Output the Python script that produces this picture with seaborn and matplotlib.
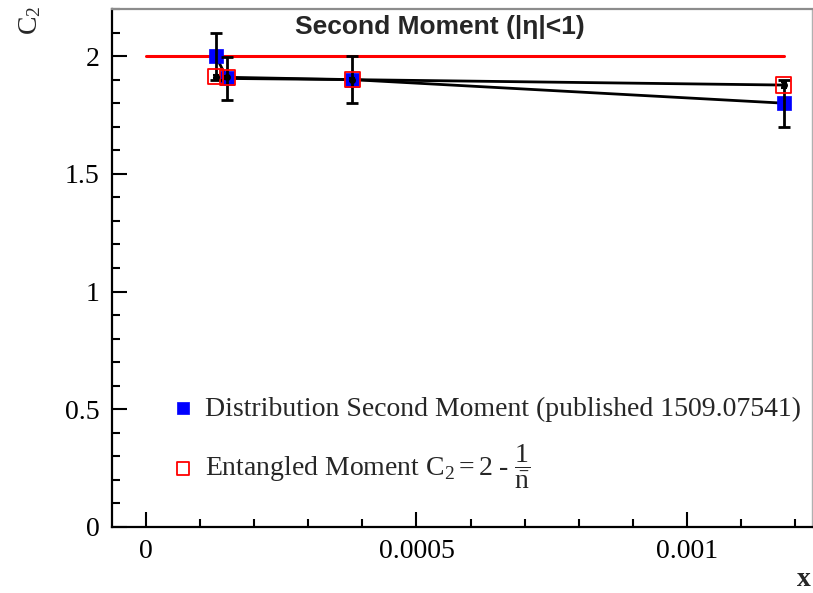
import matplotlib
matplotlib.use("Agg")
import matplotlib.pyplot as plt
from matplotlib.ticker import MultipleLocator
import seaborn as sns
import pandas as pd

# Bjorken-x bins and second-moment values
x_vals = [0.000129, 0.000150, 0.000381, 0.001179]
dist_c2 = [2.00, 1.905, 1.90, 1.80]
dist_err = [0.10, 0.09, 0.10, 0.10]
ent_c2 = [1.912, 1.91, 1.90, 1.877]
ent_err = [0.006, 0.006, 0.006, 0.012]
ref_x = [0.0, 0.00118]
ref_c2 = [2.0, 2.0]

x_ticks = [0, 0.0005, 0.001]
x_ticklabels = ["0", "0.0005", "0.001"]
y_ticks = [0, 0.5, 1, 1.5, 2]
y_ticklabels = ["0", "0.5", "1", "1.5", "2"]

title_text = "Second Moment (|η|<1)"
dist_label = "Distribution Second Moment (published 1509.07541)"
ent_label = r"Entangled Moment $\mathregular{C_2 = 2\ \text{-}\ \dfrac{1}{\bar{n}}}$"

sns.set_theme(style="ticks")
plt.rcParams["font.family"] = ["Liberation Serif", "DejaVu Serif"]
plt.rcParams["mathtext.fontset"] = "custom"
plt.rcParams["mathtext.rm"] = "Liberation Serif"
plt.rcParams["mathtext.it"] = "Liberation Serif:italic"
plt.rcParams["mathtext.bf"] = "Liberation Serif:bold"

df_dist = pd.DataFrame({"x": x_vals, "c2": dist_c2, "err": dist_err})
df_ent = pd.DataFrame({"x": x_vals, "c2": ent_c2, "err": ent_err})
df_ref = pd.DataFrame({"x": ref_x, "c2": ref_c2})

fig = plt.figure(figsize=(8.13, 5.93), dpi=100)
ax = fig.add_axes([112 / 813, 1 - 527 / 593, 700 / 813, 518 / 593])

# reference line C2 = 2
sns.lineplot(data=df_ref, x="x", y="c2", ax=ax, color="#ff0000", lw=2.2,
             zorder=2, legend=False)

# connecting lines
sns.lineplot(data=df_dist, x="x", y="c2", ax=ax, color="black", lw=2.0,
             zorder=3, legend=False, sort=True, estimator=None)
sns.lineplot(data=df_ent, x="x", y="c2", ax=ax, color="black", lw=2.0,
             zorder=3, legend=False, sort=True, estimator=None)

# distribution moment markers + errors
sns.scatterplot(data=df_dist, x="x", y="c2", ax=ax, marker="s", s=110,
                color="#0000ff", edgecolor="#0000ff", linewidth=0.5,
                zorder=4, label=dist_label)
ax.errorbar(df_dist["x"], df_dist["c2"], yerr=df_dist["err"], fmt="none",
            ecolor="black", elinewidth=2.0, capsize=4, capthick=2.0, zorder=5)

# entangled moment markers + errors
sns.scatterplot(data=df_ent, x="x", y="c2", ax=ax, marker="s", s=120,
                facecolor="none", edgecolor="#ff0000", linewidth=1.3,
                zorder=6, label=ent_label)
ax.errorbar(df_ent["x"], df_ent["c2"], yerr=df_ent["err"], fmt="o",
            color="black", markersize=4, elinewidth=1.5, capsize=2,
            capthick=1.5, zorder=7)

ax.set_xlim(-0.0000628, 0.001231)
ax.set_ylim(0, 2.2)
ax.set_xticks(x_ticks)
ax.set_xticklabels(x_ticklabels)
ax.set_yticks(y_ticks)
ax.set_yticklabels(y_ticklabels)
ax.xaxis.set_minor_locator(MultipleLocator(0.0001))
ax.yaxis.set_minor_locator(MultipleLocator(0.1))
ax.tick_params(which="both", direction="in", top=False, right=False,
               width=1.5, colors="black", labelsize=20)
ax.tick_params(which="major", length=11, pad=9)
ax.tick_params(which="minor", length=5.5)
ax.set_xlabel("")
ax.set_ylabel("")

for side in ("left", "bottom"):
    ax.spines[side].set_color("black")
    ax.spines[side].set_linewidth(1.6)
ax.spines["top"].set_color("#8c8c8c")
ax.spines["top"].set_linewidth(1.6)
ax.spines["right"].set_color("#b0b0b0")
ax.spines["right"].set_linewidth(1.0)

fig.text(440 / 813, 1 - 27 / 593, title_text, ha="center", va="center",
         fontsize=19, fontweight="bold",
         family=["Liberation Sans", "DejaVu Sans"])
fig.text(30 / 813, 1 - 6 / 593, r"$\mathregular{C_2}$", rotation=90,
         ha="center", va="top", fontsize=20)
fig.text(804 / 813, 1 - 579 / 593, "x", ha="center", va="center",
         fontsize=20, fontweight="bold")

leg = ax.legend(loc="upper left", bbox_to_anchor=(46 / 700, 1 - 376 / 518),
                frameon=False, fontsize=20, handletextpad=0.3,
                labelspacing=0.75, handlelength=1.0, markerscale=0.8,
                borderaxespad=0)

fig.savefig("out.png", dpi=100)
